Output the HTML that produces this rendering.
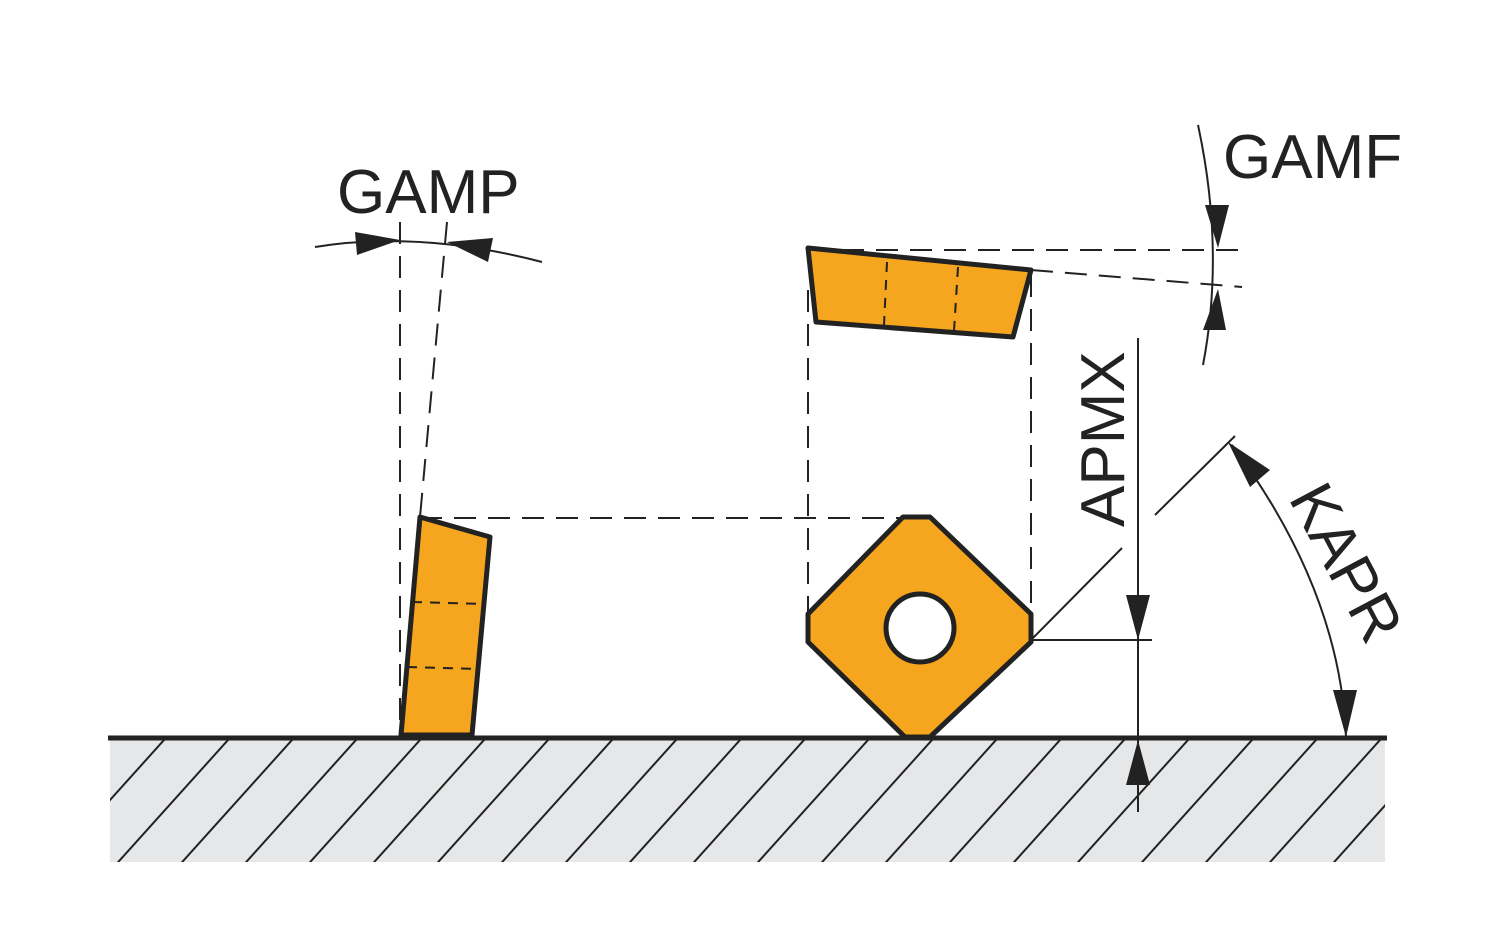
<!DOCTYPE html>
<html><head><meta charset="utf-8"><style>html,body{margin:0;padding:0;background:#fff}svg{display:block}</style></head>
<body>
<svg width="1500" height="928" viewBox="0 0 1500 928" xmlns="http://www.w3.org/2000/svg" font-family="Liberation Sans, sans-serif">
<defs>
<clipPath id="c"><rect x="110" y="740" width="1275" height="122"/></clipPath>
</defs>
<rect x="110" y="740" width="1275" height="122" fill="#e6e7e9"/>
<g clip-path="url(#c)" stroke="#222" stroke-width="2">
<path d="M20 900 L200 700 M84 900 L264 700 M148 900 L328 700 M212 900 L392 700 M276 900 L456 700 M340 900 L520 700 M404 900 L584 700 M468 900 L648 700 M532 900 L712 700 M596 900 L776 700 M660 900 L840 700 M724 900 L904 700 M788 900 L968 700 M852 900 L1032 700 M916 900 L1096 700 M980 900 L1160 700 M1044 900 L1224 700 M1108 900 L1288 700 M1172 900 L1352 700 M1236 900 L1416 700 M1300 900 L1480 700 M1364 900 L1544 700"/>
</g>
<line x1="108" y1="738" x2="1387" y2="738" stroke="#222" stroke-width="5"/>
<g stroke="#222" stroke-width="2" fill="none" stroke-dasharray="22,12">
<line x1="400" y1="222" x2="400" y2="735"/>
<line x1="447" y1="222" x2="420" y2="517"/>
<line x1="420" y1="518" x2="910" y2="518"/>
<line x1="808" y1="250" x2="1245" y2="250"/>
<line x1="1031" y1="270" x2="1242" y2="287"/>
<line x1="808" y1="290" x2="808" y2="625"/>
<line x1="1031" y1="275" x2="1031" y2="625"/>
</g>
<polygon points="420,517 490,537 472,735 401,735" fill="#f6a51f" stroke="#222" stroke-width="5" stroke-linejoin="round"/>
<g stroke="#222" stroke-width="2" stroke-dasharray="10,8"><line x1="412" y1="602" x2="484" y2="604"/><line x1="407" y1="667" x2="479" y2="669"/>
<line x1="887" y1="262" x2="884" y2="325"/><line x1="958" y1="267" x2="954" y2="331"/></g>
<polygon points="808,248 1031,270 1013,337 816,322" fill="#f6a51f" stroke="#222" stroke-width="5" stroke-linejoin="round"/>
<g stroke="#222" stroke-width="2" stroke-dasharray="10,8"><line x1="887" y1="262" x2="884" y2="325"/><line x1="958" y1="267" x2="954" y2="331"/></g>
<polygon points="903,517 930,517 1031,614 1031,642 930,737 905,737 808,642 808,614" fill="#f6a51f" stroke="#222" stroke-width="5" stroke-linejoin="round"/>
<circle cx="920" cy="628" r="34" fill="#fff" stroke="#222" stroke-width="5"/>
<g stroke="#222" stroke-width="2" fill="none">
<path d="M315 247 Q420 230 542 262"/>
<path d="M1198 125 Q1225 250 1203 365"/>
<line x1="1031" y1="640" x2="1122" y2="548"/>
<line x1="1155" y1="515" x2="1235" y2="436"/>
<line x1="1031" y1="640" x2="1152" y2="640"/>
<line x1="1138" y1="338" x2="1138" y2="812"/>
<path d="M1232 445 Q1340 590 1346 737"/>
</g>
<g fill="#222">
<polygon points="400,240 355,232 357,255"/>
<polygon points="447,242 493,238 488,262"/>
<polygon points="1218,248 1205,205 1229,205"/>
<polygon points="1218,289 1203,330 1226,330"/>
<polygon points="1138,640 1126,595 1150,595"/>
<polygon points="1138,740 1126,785 1150,785"/>
<polygon points="1228,442 1270,470 1250,487"/>
<polygon points="1346,737 1333,690 1357,690"/>
</g>
<g fill="#222" font-size="62">
<text x="337" y="213">GAMP</text>
<text x="1223" y="178">GAMF</text>
<text transform="translate(1124,527) rotate(-90)">APMX</text>
<text transform="translate(1288,498) rotate(62)">KAPR</text>
</g>
</svg>
</body></html>
